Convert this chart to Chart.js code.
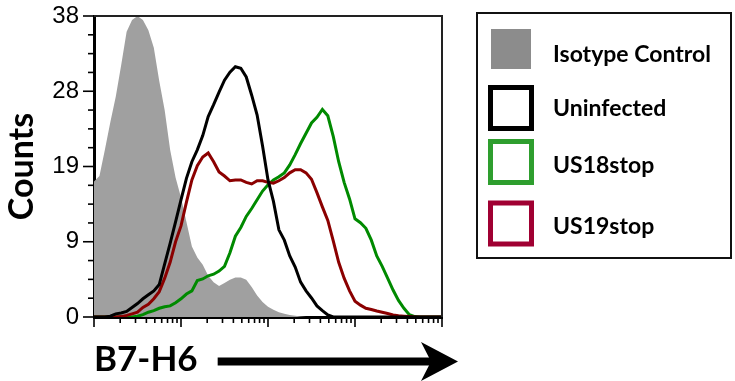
<!DOCTYPE html>
<html><head><meta charset="utf-8">
<script src="https://cdn.jsdelivr.net/npm/chart.js@4/dist/chart.umd.min.js"></script>
<style>html,body{margin:0;padding:0;background:#fff;}canvas{display:block;}</style>
</head><body>
<canvas id="c" width="735" height="381"></canvas>
<script>
// Fluorescence channel (log scale, 16 bins per decade)
const fluorescence = [1, 1.155, 1.334, 1.540, 1.778, 2.054, 2.371, 2.738, 3.162, 3.652, 4.217, 4.870, 5.623, 6.494, 7.499, 8.660,
  10, 11.55, 13.34, 15.40, 17.78, 20.54, 23.71, 27.38, 31.62, 36.52, 42.17, 48.70, 56.23, 64.94, 74.99, 86.60,
  100, 115.5, 133.4, 154.0, 177.8, 205.4, 237.1, 273.8, 316.2, 365.2, 421.7, 487.0, 562.3, 649.4, 749.9, 866.0,
  1000, 1155, 1334, 1540, 1778, 2054, 2371, 2738, 3162, 3652, 4217, 4870, 5623, 6494, 7499, 8660, 10000];

const isotypeCounts = [17.1, 17.8, 21.1, 24.6, 27.8, 31.8, 36.0, 37.5, 38.0, 37.5, 36.2, 34.0, 29.8, 26.1, 21.1, 17.6,
  15.1, 12.0, 8.9, 7.5, 6.6, 5.2, 4.4, 3.9, 4.3, 4.7, 5.0, 5.0, 4.7, 3.8, 2.7, 1.9,
  1.3, 0.9, 0.6, 0.4, 0.25, 0.15, 0.05, 0, 0, 0, 0, 0, 0, 0, 0, 0,
  0, 0, 0, 0, 0, 0, 0, 0, 0, 0, 0, 0, 0, 0, 0, 0, 0];

const uninfectedCounts = [0, 0, 0, 0.1, 0.4, 0.5, 0.7, 1.2, 1.7, 2.3, 2.8, 3.3, 4.1, 6.7, 9.3, 12.0,
  14.8, 17.5, 19.6, 21.1, 22.9, 25.3, 26.8, 28.4, 29.9, 30.9, 31.6, 31.4, 30.3, 28.0, 25.5, 21.6,
  17.3, 14.6, 11.0, 9.7, 7.7, 6.3, 4.4, 3.3, 2.4, 1.4, 0.8, 0.25, 0, 0, 0, 0,
  0, 0, 0, 0, 0, 0, 0, 0, 0, 0, 0, 0, 0, 0, 0, 0, 0];

const us18stopCounts = [0, 0, 0, 0, 0, 0, 0, 0, 0.1, 0.3, 0.6, 0.8, 1.1, 1.3, 1.4, 1.8,
  2.3, 2.9, 3.3, 4.6, 4.8, 5.2, 5.4, 5.8, 6.4, 8.1, 10.2, 11.3, 12.7, 13.7, 14.8, 15.9,
  16.7, 17.3, 17.7, 18.2, 19.2, 20.5, 21.9, 23.2, 24.5, 25.2, 26.2, 25.4, 22.8, 19.6, 17.0, 14.9,
  12.4, 11.9, 11.2, 9.7, 7.7, 6.4, 4.9, 3.4, 2.1, 1.1, 0.3, 0.05, 0, 0, 0, 0, 0];

const us19stopCounts = [0, 0, 0, 0, 0, 0.05, 0.2, 0.4, 0.6, 1.2, 1.6, 2.3, 3.2, 4.9, 6.9, 9.5,
  11.5, 14.5, 17.3, 19.1, 20.2, 20.7, 19.6, 18.3, 17.8, 17.2, 17.3, 17.3, 17.0, 16.8, 17.2, 17.2,
  17.0, 16.9, 17.2, 17.6, 18.2, 18.6, 18.6, 18.2, 17.4, 15.7, 13.9, 12.2, 9.6, 6.9, 4.9, 3.3,
  2.0, 1.5, 1.1, 0.95, 0.75, 0.6, 0.45, 0.25, 0.15, 0.1, 0.05, 0, 0, 0, 0, 0, 0];

const seriesNames = ['Isotype Control', 'Uninfected', 'US18stop', 'US19stop'];
const yMajorTicks = [0, 9.5, 19, 28.5, 38];
const yTickLabels = ['0', '9', '19', '28', '38'];
const xAxisTitle = 'B7-H6';
const yAxisTitle = 'Counts';

const lineColors = ['#a0a0a0', '#000000', '#008a00', '#8b0000'];
const legendColors = ['#8c8c8c', '#000000', '#2e9e2e', '#a00032'];

const pts = arr => fluorescence.map((x, i) => ({x: x, y: arr[i]}));

const yMinorStep = 9.5 / 4;
const yAllTicks = [];
for (let v = 0; v <= 38.0001; v += yMinorStep) yAllTicks.push(+v.toFixed(4));

const decorPlugin = {
  id: 'decor',
  afterDatasetsDraw(chart) {
    const ctx = chart.ctx, a = chart.chartArea;
    ctx.save();
    ctx.strokeStyle = '#222';
    ctx.lineWidth = 2;
    ctx.beginPath();
    ctx.moveTo(a.left, a.top); ctx.lineTo(a.right, a.top); ctx.lineTo(a.right, a.bottom);
    ctx.stroke();
    ctx.restore();
  },
  afterDraw(chart) {
    const ctx = chart.ctx, a = chart.chartArea;
    const xs = chart.scales.x, ys = chart.scales.y;
    ctx.save();
    ctx.strokeStyle = '#000';
    ctx.lineWidth = 1.6;
    yAllTicks.forEach(v => {
      const py = ys.getPixelForValue(v);
      const major = yMajorTicks.some(m => Math.abs(m - v) < 1e-3);
      ctx.beginPath();
      ctx.moveTo(a.left - (major ? 11 : 6), py);
      ctx.lineTo(a.left, py);
      ctx.stroke();
    });
    for (let e = 0; e < 4; e++) {
      for (let m = 1; m <= 9; m++) {
        const v = m * Math.pow(10, e);
        const px = xs.getPixelForValue(v);
        ctx.beginPath();
        ctx.moveTo(px, a.bottom);
        ctx.lineTo(px, a.bottom + (m === 1 ? 10 : 6));
        ctx.stroke();
      }
    }
    const pxEnd = xs.getPixelForValue(10000);
    ctx.beginPath(); ctx.moveTo(pxEnd, a.bottom); ctx.lineTo(pxEnd, a.bottom + 10); ctx.stroke();

    // arrow next to x title
    ctx.font = 'bold 35px Lato';
    const tw = ctx.measureText(xAxisTitle).width;
    const ax0 = a.left + tw + 20, ay = 361.5, tip = 458;
    ctx.fillStyle = '#000';
    ctx.fillRect(ax0, ay - 4, (tip - 26) - ax0, 8);
    ctx.beginPath();
    ctx.moveTo(tip, ay);
    ctx.lineTo(tip - 37, ay - 19.5);
    ctx.lineTo(tip - 27, ay);
    ctx.lineTo(tip - 37, ay + 19.5);
    ctx.closePath();
    ctx.fill();

    // legend box
    const L = 477, T = 13, R = 731, B = 258;
    ctx.lineWidth = 2;
    ctx.strokeStyle = '#111';
    ctx.strokeRect(L, T, R - L, B - T);
    const rowsY = [49, 107.5, 161.5, 223];
    const baselines = [61.5, 115.5, 172.5, 233.5];
    ctx.font = 'bold 23px Lato';
    ctx.textAlign = 'left';
    ctx.textBaseline = 'alphabetic';
    seriesNames.forEach((name, i) => {
      const cy = rowsY[i];
      if (i === 0) {
        ctx.fillStyle = legendColors[i];
        ctx.fillRect(491, cy - 20, 40, 40);
      } else {
        ctx.strokeStyle = legendColors[i];
        ctx.lineWidth = 5;
        ctx.strokeRect(490.5, cy - 20, 41, 41);
      }
      ctx.fillStyle = '#000';
      ctx.fillText(name, 553, baselines[i]);
    });
    ctx.restore();
  }
};

function build() {
  new Chart(document.getElementById('c'), {
    type: 'line',
    data: {
      datasets: [
        {label: seriesNames[0], data: pts(isotypeCounts), fill: 'origin', backgroundColor: lineColors[0], borderColor: lineColors[0], borderWidth: 0, order: 4},
        {label: seriesNames[2], data: pts(us18stopCounts), fill: false, borderColor: lineColors[2], borderWidth: 3, order: 3},
        {label: seriesNames[3], data: pts(us19stopCounts), fill: false, borderColor: lineColors[3], borderWidth: 3, order: 2},
        {label: seriesNames[1], data: pts(uninfectedCounts), fill: false, borderColor: lineColors[1], borderWidth: 3, order: 1}
      ]
    },
    options: {
      responsive: false,
      animation: false,
      devicePixelRatio: 1,
      layout: {padding: {left: 0, top: 16, right: 293, bottom: 0}},
      elements: {point: {radius: 0}, line: {tension: 0}},
      plugins: {legend: {display: false}, tooltip: {enabled: false}},
      scales: {
        x: {
          type: 'logarithmic', min: 1, max: 10000,
          grid: {display: true, drawOnChartArea: false, drawTicks: false},
          border: {display: true, color: '#000', width: 3},
          ticks: {display: false},
          title: {display: true, text: xAxisTitle, align: 'start', color: '#000', font: {family: 'Lato', weight: 'bold', size: 35}, padding: {top: 0, bottom: 0}},
          afterFit: s => { s.height = 64; s.paddingLeft = 0; s.paddingRight = 0; }
        },
        y: {
          type: 'linear', min: 0, max: 38,
          afterBuildTicks: s => { s.ticks = yAllTicks.map(v => ({value: v})); },
          grid: {display: true, drawOnChartArea: false, drawTicks: false},
          border: {display: true, color: '#000', width: 3},
          ticks: {
            autoSkip: false, padding: 15, color: '#000',
            font: {family: 'Liberation Sans', size: 24},
            callback: v => { const i = yMajorTicks.findIndex(m => Math.abs(m - v) < 1e-3); return i >= 0 ? yTickLabels[i] : ''; }
          },
          title: {display: true, text: yAxisTitle, color: '#000', font: {family: 'Lato', weight: 'bold', size: 34}, padding: {top: 2, bottom: 0}},
          afterFit: s => { s.width = 94; s.paddingTop = 0; s.paddingBottom = 0; }
        }
      }
    },
    plugins: [decorPlugin]
  });
}
Promise.all([document.fonts.load('bold 33px Lato'), document.fonts.load('21px "Liberation Sans"')]).then(build, build);
</script>
</body></html>
